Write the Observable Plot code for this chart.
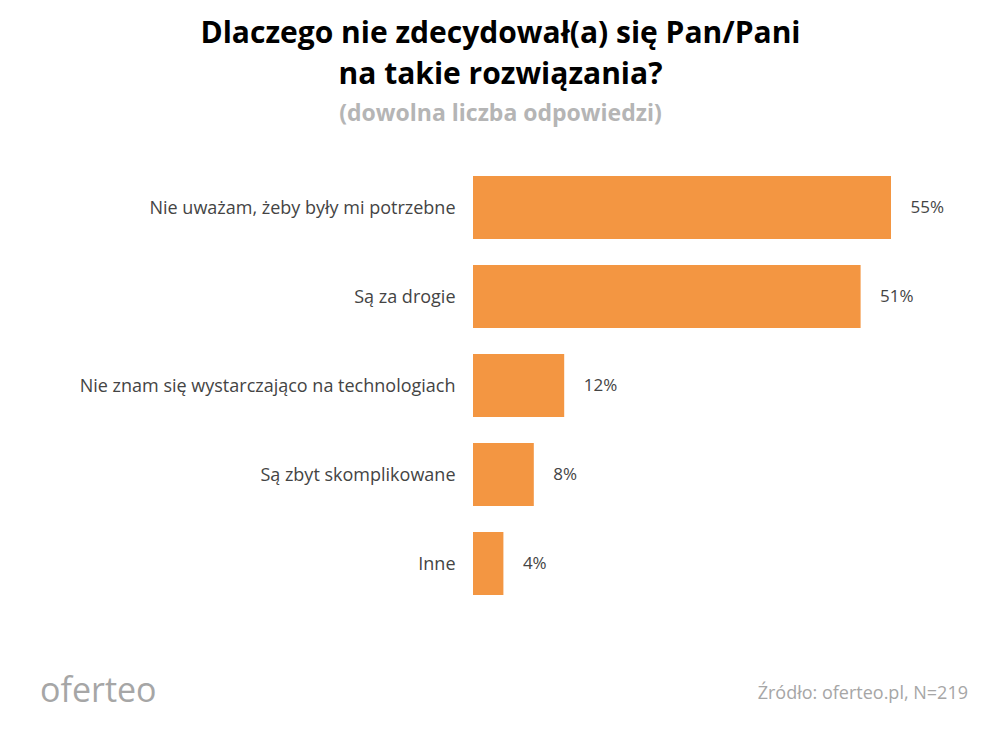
<!DOCTYPE html>
<html><head><meta charset="utf-8">
<script src="https://cdn.jsdelivr.net/npm/d3@7"></script>
<script src="https://cdn.jsdelivr.net/npm/@observablehq/plot@0.6"></script>
<style>
body{margin:0;background:#fff;width:1001px;height:737px;position:relative;font-family:"Open Sans",sans-serif;overflow:hidden}
#t{position:absolute;top:11px;left:0;width:1001px;text-align:center;font-weight:bold;font-size:30px;line-height:41px;color:#000}
#s{position:absolute;top:96px;left:0;width:1001px;text-align:center;font-weight:bold;font-size:23px;color:#b5b5b5}
#c{position:absolute;top:140px;left:0}
#logo{position:absolute;left:40px;top:666px;font-size:34px;color:#a6a6a6}
#src{position:absolute;right:33px;top:680px;font-size:18px;color:#a6a6a6}
</style></head><body>
<div id="t">Dlaczego nie zdecydował(a) się Pan/Pani<br>na takie rozwiązania?</div>
<div id="s">(dowolna liczba odpowiedzi)</div>
<div id="c"></div>
<div id="logo">oferteo</div>
<div id="src">Źródło: oferteo.pl, N=219</div>
<script>
const categories=["Nie uważam, żeby były mi potrzebne","Są za drogie","Nie znam się wystarczająco na technologiach","Są zbyt skomplikowane","Inne"];
const values=[55,51,12,8,4];
const data=categories.map((c,i)=>({c,v:values[i]}));
const chart=Plot.plot({
  width:1001,height:492,marginTop:8,marginBottom:8,marginLeft:473,marginRight:110,
  x:{domain:[0,55],axis:null},
  y:{domain:categories,axis:null,padding:0.289},
  style:{fontFamily:"Open Sans",fontSize:"18px"},
  marks:[
    Plot.barX(data,{x:"v",y:"c",fill:"#F39642"}),
    Plot.text(data,{x:0,y:"c",text:"c",textAnchor:"end",dx:-18,fill:"#444",fontSize:18}),
    Plot.text(data,{x:"v",y:"c",text:d=>d.v+"%",textAnchor:"start",dx:19,fill:"#444",fontSize:17})
  ]
});
document.getElementById("c").appendChild(chart);
</script></body></html>
